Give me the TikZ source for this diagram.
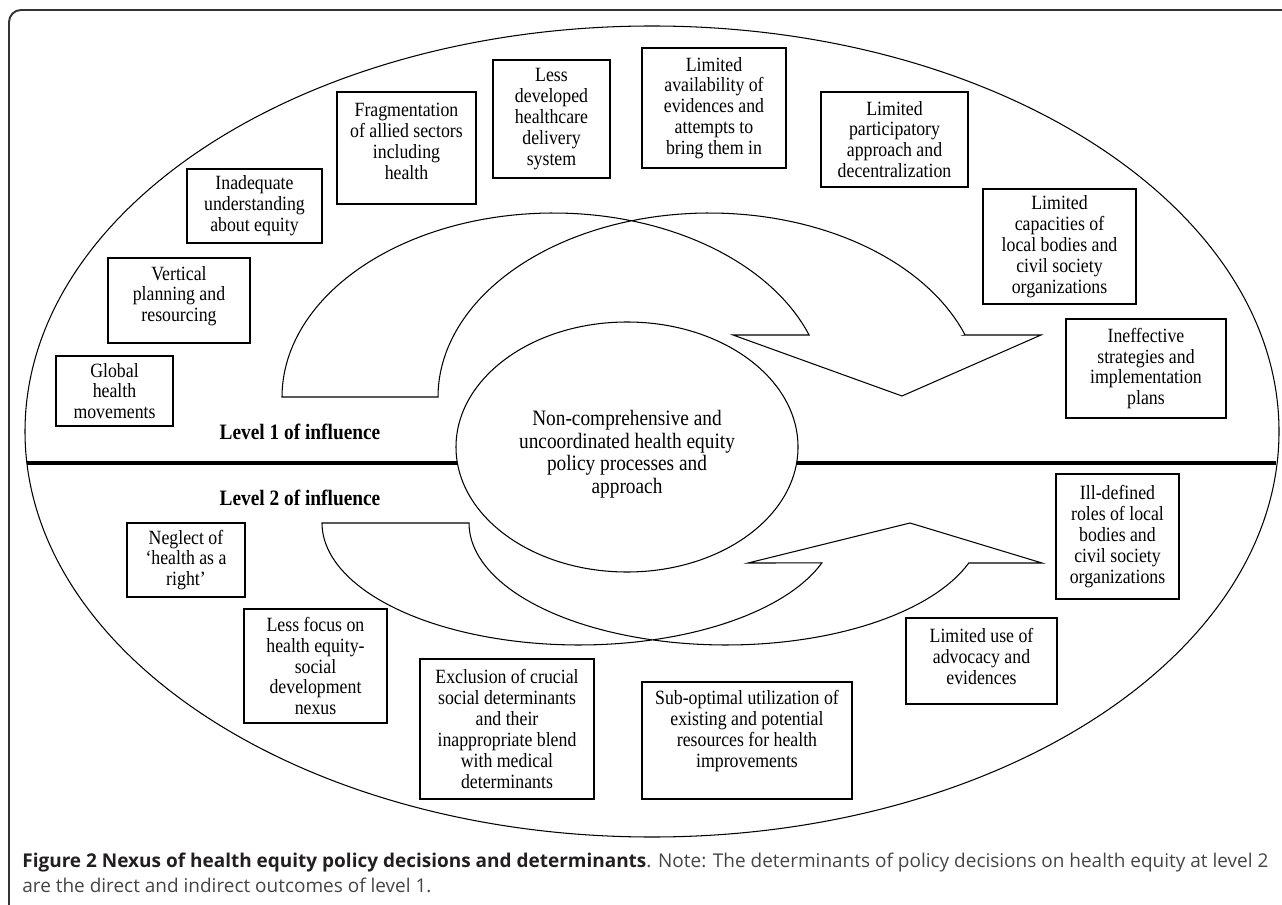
\documentclass[tikz,border=0pt]{standalone}
\usepackage{fontspec}
\setmainfont[FakeStretch=0.88]{Liberation Serif}
\newfontfamily\capfont{Open Sans}
\definecolor{framegray}{HTML}{333333}
\definecolor{capbold}{HTML}{231F20}
\definecolor{captext}{HTML}{454545}

\begin{document}
\begin{tikzpicture}[x=0.2mm, y=-0.2mm,
        every node/.style={font=\fontsize{11.5}{11.9}\selectfont},
        cause/.style 2 args={draw, line width=0.6pt, align=center, inner sep=0pt,
          minimum width=#1*0.2mm, minimum height=#2*0.2mm},
        level/.style={font=\fontsize{12.5}{14}\selectfont\bfseries},
        band/.style={line width=0.6pt, line join=miter}]
      % Grid: one unit is one pixel of the 1282 x 905 figure, y grows downward.
      \useasboundingbox (0,0) rectangle (1282,905);
      \clip (0,0) rectangle (1282,905);

      % Page frame (only the top-left corner shows)
      \draw[framegray, line width=1.1pt, rounded corners=2.4mm]
        (9,950) |- (1320,10);

      % Outer ellipse and the level divider
      \draw[line width=0.6pt] (652,431.5) ellipse [x radius=627, y radius=405.5];
      \draw[line width=2.6pt] (27,463) -- (457,463);
      \draw[line width=2.6pt] (797,463) -- (1276,463);

      % Core of the nexus
      \draw[line width=0.6pt] (627,447) ellipse [x radius=171, y radius=125];
      \node[align=center, font=\fontsize{12.5}{12.8}\selectfont] (core) at (627,454)
        {Non-comprehensive and\\uncoordinated health equity\\policy processes and\\approach};

      % Upper curved arrow (level 1 feeds the core)
      \draw[band] (282,397)
        -- plot[domain=180:340.3, samples=80] ({553.5+271.5*cos(\x)}, {397+184*sin(\x)})
        -- (733,335) -- (902,396) -- (1041,335) -- (965,335)
        -- plot[domain=340.3:180, samples=80] ({709.5+271.5*cos(\x)}, {397+184*sin(\x)})
        -- cycle;

      % Lower curved arrow (level 2 feeds back)
      \draw[band] (322,523)
        -- plot[domain=180:19.1, samples=80] ({579+257*cos(\x)}, {523+122*sin(\x)})
        -- (748,563) -- (910,523) -- (1042,563) -- (969,563)
        -- plot[domain=19.1:180, samples=80] ({726+257*cos(\x)}, {523+122*sin(\x)})
        -- cycle;

      % Level labels
      \node[level] (lvlone) at (300,432) {Level 1 of influence};
      \node[level] (lvltwo) at (300,498) {Level 2 of influence};

      % Level 1 determinants
      \node[cause={117}{70}] (global) at (114.5,391) {Global\\health\\movements};
      \node[cause={142}{85}, text depth=7.5pt] (vertical) at (179,300.5)
        {Vertical\\planning and\\resourcing};
      \node[cause={135}{74}] (equity) at (254.5,206) {Inadequate\\understanding\\about equity};
      \node[cause={139}{112}, text depth=8pt] (fragment) at (406.5,148)
        {Fragmentation\\of allied sectors\\including\\health};
      \node[cause={117}{118}] (delivery) at (551.5,119)
        {Less\\developed\\healthcare\\delivery\\system};
      \node[cause={144}{120}] (evidence) at (714,108)
        {Limited\\availability of\\evidences and\\attempts to\\bring them in};
      \node[cause={147}{95}] (particip) at (894.5,139.5)
        {Limited\\participatory\\approach and\\decentralization};
      \node[cause={153}{115}] (capacity) at (1059.5,246.5)
        {Limited\\capacities of\\local bodies and\\civil society\\organizations};
      \node[cause={160}{99}] (strategy) at (1146,368.5)
        {Ineffective\\strategies and\\implementation\\plans};

      % Level 2 determinants
      \node[cause={118}{74}] (neglect) at (186,560) {Neglect of\\`health as a\\right'};
      \node[cause={143}{114}] (nexus) at (315.5,666)
        {Less focus on\\health equity-\\social\\development\\nexus};
      \node[cause={174}{140}] (exclusion) at (507,729)
        {Exclusion of crucial\\social determinants\\and their\\inappropriate blend\\with medical\\determinants};
      \node[cause={210}{117}, text depth=13pt] (resource) at (747,740.5)
        {Sub-optimal utilization of\\existing and potential\\resources for health\\improvements};
      \node[cause={151}{86}, text depth=5.7pt] (advocacy) at (981.5,661)
        {Limited use of\\advocacy and\\evidences};
      \node[cause={123}{125}] (roles) at (1117.5,536.5)
        {Ill-defined\\roles of local\\bodies and\\civil society\\organizations};

      % Caption
      \node[anchor=base west, inner sep=0pt, text=captext,
            font=\capfont\fontsize{10.8}{13}\selectfont] (capone) at (22,867)
        {\makebox[249.2mm][s]{\textcolor{capbold}{\bfseries Figure 2 Nexus of health
          equity policy decisions and determinants}. Note: The determinants of policy
          decisions on health equity at level 2}};
      \node[anchor=base west, inner sep=0pt, text=captext,
            font=\capfont\fontsize{10.8}{13}\selectfont] (captwo) at (22,892)
        {are the direct and indirect outcomes of level 1.};

    \end{tikzpicture}
\end{document}
